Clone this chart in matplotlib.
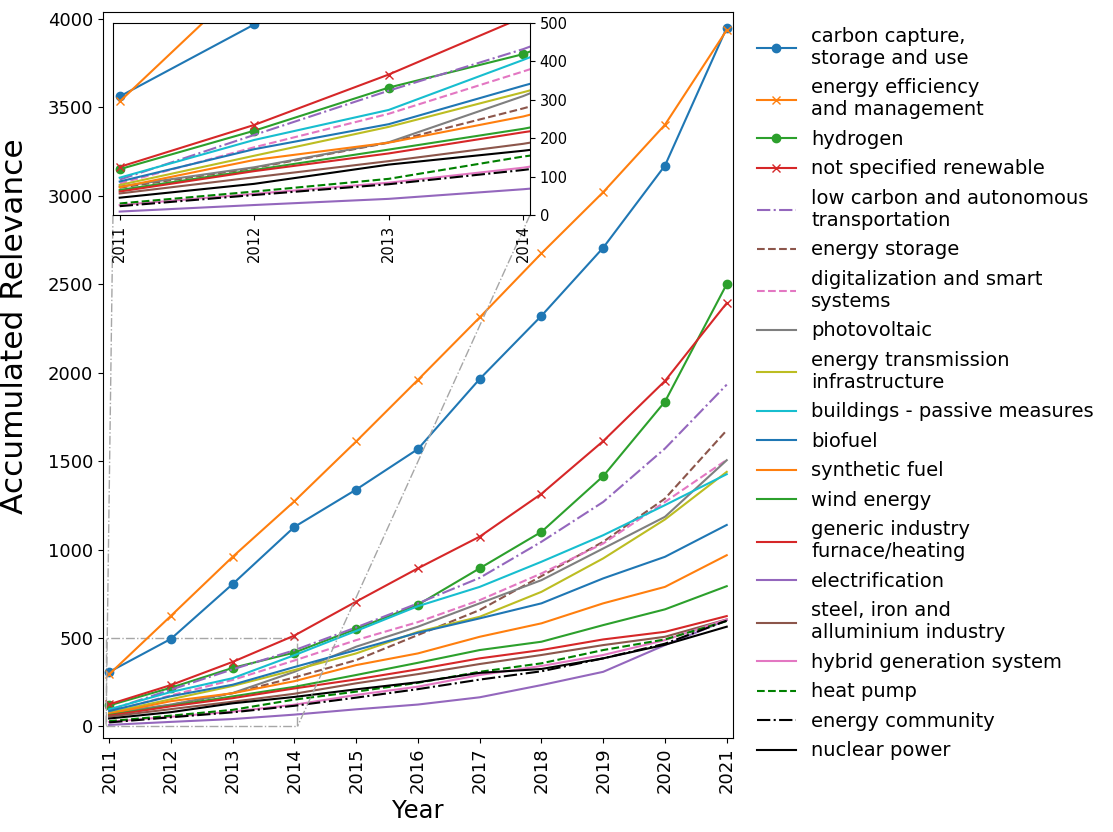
import matplotlib
matplotlib.use('Agg')
import matplotlib.pyplot as plt
from mpl_toolkits.axes_grid1.inset_locator import mark_inset

# years on the x axis
years = list(range(2011, 2022))

# accumulated relevance per topic (2011 .. 2021)
carbon_capture = [308, 495, 805, 1128, 1339, 1568, 1964, 2321, 2706, 3170, 3949]
energy_efficiency = [295, 625, 959, 1273, 1611, 1959, 2312, 2674, 3020, 3401, 3936]
hydrogen = [119, 219, 331, 418, 551, 688, 894, 1100, 1415, 1836, 2500]
not_specified_renewable = [125, 234, 365, 514, 706, 894, 1073, 1315, 1613, 1953, 2393]
low_carbon_transport = [92, 208, 323, 431, 560, 696, 840, 1044, 1269, 1571, 1932]
energy_storage = [71, 122, 188, 277, 375, 517, 658, 850, 1044, 1288, 1674]
digitalization = [82, 176, 263, 373, 488, 590, 714, 865, 1034, 1269, 1507]
photovoltaic = [74, 124, 189, 309, 451, 564, 696, 827, 1006, 1185, 1505]
energy_transmission = [78, 154, 229, 319, 413, 535, 620, 761, 950, 1170, 1439]
buildings_passive = [97, 195, 273, 403, 540, 680, 789, 931, 1081, 1251, 1426]
biofuel = [87, 171, 236, 336, 432, 530, 611, 696, 837, 959, 1139]
synthetic_fuel = [72, 143, 188, 256, 347, 413, 507, 583, 696, 789, 968]
wind_energy = [65, 117, 170, 224, 291, 360, 432, 479, 573, 662, 793]
generic_industry = [61, 114, 160, 215, 266, 323, 385, 432, 492, 535, 624]
electrification = [9, 26, 42, 67, 97, 124, 165, 234, 309, 460, 601]
steel_industry = [56, 98, 140, 185, 244, 296, 353, 404, 460, 507, 605]
hybrid_generation = [26, 55, 84, 123, 178, 225, 291, 342, 404, 488, 605]
heat_pump = [30, 61, 94, 152, 197, 247, 309, 357, 432, 492, 596]
energy_community = [23, 52, 80, 117, 163, 211, 265, 312, 385, 468, 598]
nuclear_power = [45, 81, 131, 167, 210, 250, 303, 325, 385, 462, 564]

series = [
    ('carbon capture,\nstorage and use', carbon_capture, dict(color='tab:blue', marker='o')),
    ('energy efficiency\nand management', energy_efficiency, dict(color='tab:orange', marker='x')),
    ('hydrogen', hydrogen, dict(color='tab:green', marker='o')),
    ('not specified renewable', not_specified_renewable, dict(color='tab:red', marker='x')),
    ('low carbon and autonomous\ntransportation', low_carbon_transport, dict(color='tab:purple', ls='-.')),
    ('energy storage', energy_storage, dict(color='tab:brown', ls='--')),
    ('digitalization and smart\nsystems', digitalization, dict(color='tab:pink', ls='--')),
    ('photovoltaic', photovoltaic, dict(color='tab:gray')),
    ('energy transmission\ninfrastructure', energy_transmission, dict(color='tab:olive')),
    ('buildings - passive measures', buildings_passive, dict(color='tab:cyan')),
    ('biofuel', biofuel, dict(color='tab:blue')),
    ('synthetic fuel', synthetic_fuel, dict(color='tab:orange')),
    ('wind energy', wind_energy, dict(color='tab:green')),
    ('generic industry\nfurnace/heating', generic_industry, dict(color='tab:red')),
    ('electrification', electrification, dict(color='tab:purple')),
    ('steel, iron and\nalluminium industry', steel_industry, dict(color='tab:brown')),
    ('hybrid generation system', hybrid_generation, dict(color='tab:pink')),
    ('heat pump', heat_pump, dict(color='g', ls='--')),
    ('energy community', energy_community, dict(color='k', ls='-.')),
    ('nuclear power', nuclear_power, dict(color='k')),
]

fig = plt.figure(figsize=(11.13, 8.32), dpi=100)
ax = fig.add_axes([0.0925, 0.113, 0.566, 0.873])

for label, vals, style in series:
    ax.plot(years, vals, label=label, **style)

ax.set_xlim(2010.9, 2021.1)
ax.set_ylim(-65, 4040)
ax.set_xticks(years)
ax.set_xticklabels([str(y) for y in years], rotation=90)
ax.tick_params(labelsize=13)
ax.set_xlabel('Year', fontsize=17.5)
ax.set_ylabel('Accumulated Relevance', fontsize=22.5)
ax.yaxis.set_label_coords(-0.117, 0.567)

ax.legend(loc='upper left', bbox_to_anchor=(1.01, 1.003), frameon=False,
          fontsize=14, labelspacing=0.54)

# zoomed inset for the first years
axins = ax.inset_axes([0.0159, 0.720, 0.662, 0.265])
for label, vals, style in series:
    axins.plot(years, vals, **style)
axins.set_xlim(2010.95, 2014.05)
axins.set_ylim(0, 500)
axins.set_xticks(years[:4])
axins.set_xticklabels([str(y) for y in years[:4]], rotation=90)
axins.yaxis.tick_right()
axins.tick_params(labelsize=10.5)

mark_inset(ax, axins, loc1=3, loc2=4, fc='none', ec='0.65', ls='-.')

fig.savefig('out.png', dpi=100)
